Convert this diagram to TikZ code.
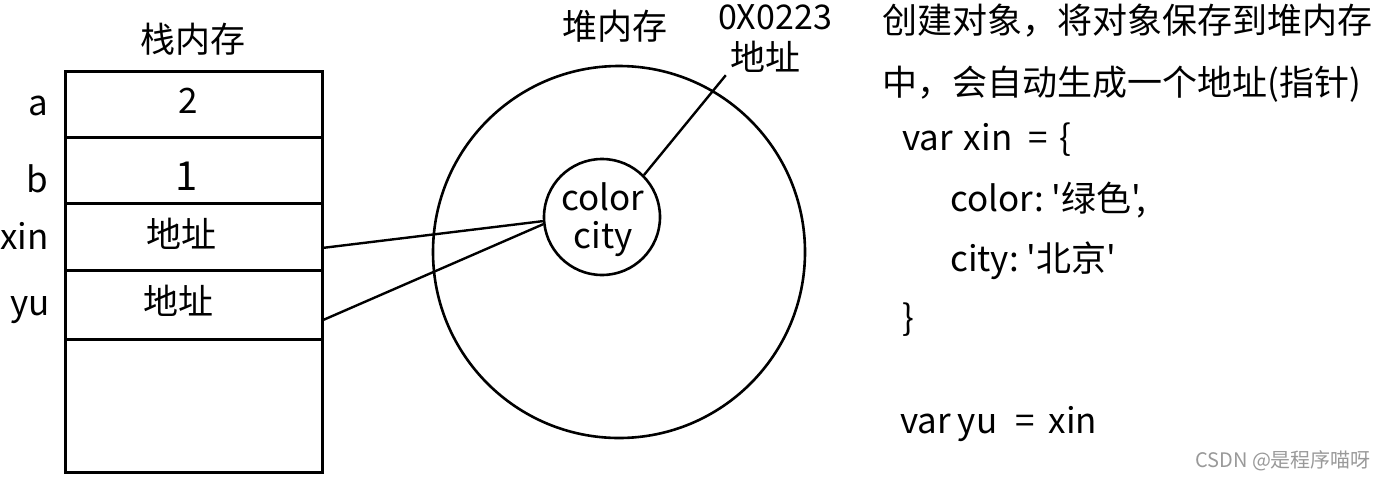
\documentclass[tikz,border=0pt]{standalone}
\usepackage{fontspec}
\setmainfont{Noto Sans CJK SC}[Ligatures=TeXOff]
\begin{document}
\begin{tikzpicture}[x=1pt,y=-1pt,
  txt/.style={inner sep=0pt,font=\fontsize{35}{40}\selectfont},
  cell/.style={draw,line width=2.6pt,rectangle,minimum width=257pt,anchor=north west,inner sep=0pt},
  ring/.style={draw,line width=2.6pt,circle,inner sep=0pt},
  link/.style={line width=2.4pt}]
\useasboundingbox (0,0) rectangle (1382,480);
% stack
\node[txt,anchor=base] (stitle) at (193,52) {栈内存};
\node[cell,minimum height=66pt] (ca) at (64,70) {};
\node[cell,minimum height=66pt] (cb) at (64,136) {};
\node[cell,minimum height=67pt] (cx) at (64,202) {};
\node[cell,minimum height=69pt] (cy) at (64,269) {};
\node[cell,minimum height=133pt] (cz) at (64,338) {};
\node[txt,anchor=base east] (la) at (48,115) {a};
\node[txt,anchor=base east] (lb) at (48,192) {b};
\node[txt,anchor=base east] (lx) at (49,249) {xin};
\node[txt,anchor=base east] (ly) at (50,315) {yu};
\node[txt,anchor=base] (va) at (188,113) {2};
\node[txt,anchor=base,font=\fontsize{40}{44}\selectfont] (vb) at (187,190) {1};
\node[txt,anchor=base] (vx) at (181,247) {地址};
\node[txt,anchor=base] (vy) at (178,314) {地址};
% heap
\node[txt,anchor=base] (htitle) at (615,39) {堆内存};
\node[ring,minimum size=372pt] (outer) at (619,252) {};
\node[ring,minimum size=116pt] (inner) at (602,217) {};
\node[txt,anchor=base] (tcolor) at (603,210) {color};
\node[txt,anchor=base] (tcity) at (603,248) {city};
\node[txt,anchor=base,font=\fontsize{34}{40}\selectfont] (hex) at (775,29) {0X0223};
\node[txt,anchor=base] (addr) at (765,70) {地址};
\coordinate (pxin) at ([yshift=-11pt]cx.east);
\coordinate (pyu) at ([yshift=-15pt]cy.east);
\draw[link] (pxin) -- (inner.184);
\draw[link] (pyu) -- (inner.187);
\draw[link] (inner.45) -- ([xshift=-4pt,yshift=-3pt]addr.south west);
% code
\node[txt,anchor=base west] (t1) at (882,33) {创建对象，将对象保存到堆内存};
\node[txt,anchor=base west] (t2) at (882,95) {中，会自动生成一个地址(指针)};
\node[txt,anchor=base west] (t3) at (902,150) {var\hspace{11pt}xin\hspace{16pt}=\hspace{12pt}\{};
\node[txt,anchor=base west] (t4) at (950,211) {color:\hspace{8pt}'绿色',};
\node[txt,anchor=base west] (t5) at (950,271) {city:\hspace{8pt}'北京'};
\node[txt,anchor=base west] (t6) at (902,330) {\}};
\node[txt,anchor=base west] (t7) at (900,433) {var\hspace{7pt}yu\hspace{18pt}=\hspace{14pt}xin};
\node[anchor=base west,inner sep=0pt,text=black!40,font=\fontsize{20}{24}\selectfont] (wm) at (1195,467) {CSDN @是程序喵呀};
\end{tikzpicture}
\end{document}
